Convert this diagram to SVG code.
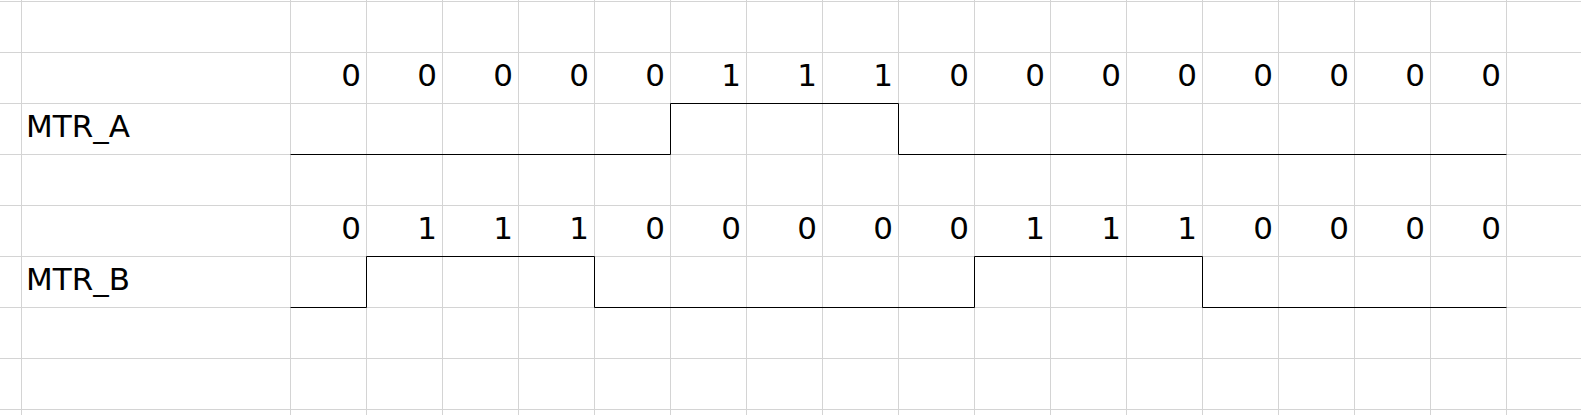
<svg xmlns="http://www.w3.org/2000/svg" width="1581" height="415" viewBox="0 0 1581 415">
<style>
.g{stroke:#d4d4d4;stroke-width:1;fill:none}
.s{stroke:#000;stroke-width:1;fill:none}
.t{font-family:"DejaVu Sans",sans-serif;font-size:31px;fill:#000}
.d{font-family:"DejaVu Sans",sans-serif;font-size:31px;fill:#000;text-anchor:end}
</style>
<rect width="1581" height="415" fill="#fff"/>
<g id="grid" class="g">
<path d="M0 1.5H1581M0 52.5H1581M0 103.5H1581M0 154.5H1581M0 205.5H1581M0 256.5H1581M0 307.5H1581M0 358.5H1581M0 409.5H1581"/>
<path d="M21.5 0V415M290.5 0V415M366.5 0V415M442.5 0V415M518.5 0V415M594.5 0V415M670.5 0V415M746.5 0V415M822.5 0V415M898.5 0V415M974.5 0V415M1050.5 0V415M1126.5 0V415M1202.5 0V415M1278.5 0V415M1354.5 0V415M1430.5 0V415M1506.5 0V415"/>
</g>
<g id="labels">
<text id="label-a" class="t" x="26" y="136.5">MTR_A</text>
<text id="label-b" class="t" x="26" y="290">MTR_B</text>
</g>
<g id="bits-a" class="d">
<text x="361" y="86">0</text><text x="437" y="86">0</text><text x="513" y="86">0</text><text x="589" y="86">0</text>
<text x="665" y="86">0</text><text x="741" y="86">1</text><text x="817" y="86">1</text><text x="893" y="86">1</text>
<text x="969" y="86">0</text><text x="1045" y="86">0</text><text x="1121" y="86">0</text><text x="1197" y="86">0</text>
<text x="1273" y="86">0</text><text x="1349" y="86">0</text><text x="1425" y="86">0</text><text x="1501" y="86">0</text>
</g>
<g id="bits-b" class="d">
<text x="361" y="239">0</text><text x="437" y="239">1</text><text x="513" y="239">1</text><text x="589" y="239">1</text>
<text x="665" y="239">0</text><text x="741" y="239">0</text><text x="817" y="239">0</text><text x="893" y="239">0</text>
<text x="969" y="239">0</text><text x="1045" y="239">1</text><text x="1121" y="239">1</text><text x="1197" y="239">1</text>
<text x="1273" y="239">0</text><text x="1349" y="239">0</text><text x="1425" y="239">0</text><text x="1501" y="239">0</text>
</g>
<g id="connectors" class="s">
<path id="wave-a" d="M290.5 154.5H670.5V103.5H898.5V154.5H1506.5"/>
<path id="wave-b" d="M290.5 307.5H366.5V256.5H594.5V307.5H974.5V256.5H1202.5V307.5H1506.5"/>
</g>
</svg>
